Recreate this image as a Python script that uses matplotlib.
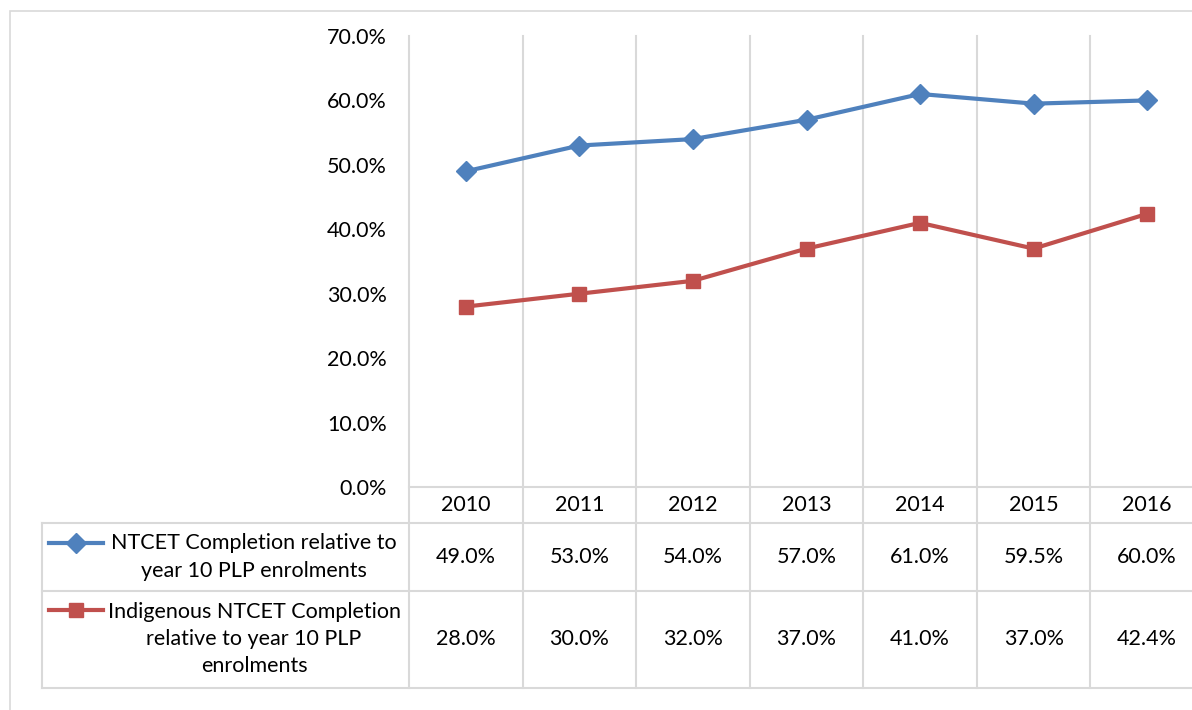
import matplotlib.pyplot as plt
import matplotlib.transforms as mtransforms
from matplotlib.patches import Rectangle
from matplotlib.lines import Line2D

years = ["2010", "2011", "2012", "2013", "2014", "2015", "2016"]
ntcet = [49.0, 53.0, 54.0, 57.0, 61.0, 59.5, 60.0]
indigenous = [28.0, 30.0, 32.0, 37.0, 41.0, 37.0, 42.4]
series_names = [
    "NTCET Completion relative to\nyear 10 PLP enrolments",
    "Indigenous NTCET Completion\nrelative to year 10 PLP\nenrolments",
]
y_ticks = [0, 10, 20, 30, 40, 50, 60, 70]

BLUE = "#4F81BD"
RED = "#C0504D"
GRID = "#D9D9D9"
FONT = "Lato"
FS = 15.5

W, H = 1192, 710
fig = plt.figure(figsize=(W / 100, H / 100), dpi=100)


def fy(py):
    # pixel row (from top) -> figure fraction
    return 1 - py / H


def fx(px):
    return px / W


# chart border
fig.patches.append(Rectangle((fx(10), fy(760)), 2, fy(11) - fy(760),
                             transform=fig.transFigure, fill=False,
                             edgecolor=GRID, lw=1.2))

x0, x1 = 409, 1204
y_top, y_bot = 36, 487
ax = fig.add_axes([fx(x0), fy(y_bot), fx(x1) - fx(x0), fy(y_top) - fy(y_bot)])
ax.set_xlim(-0.5, 6.5)
ax.set_ylim(0, 70)
for s in ax.spines.values():
    s.set_visible(False)
ax.set_xticks([])
ax.set_yticks(y_ticks)
ax.set_yticklabels([f"{v:.1f}%" for v in y_ticks], fontsize=FS, family=FONT)
ax.tick_params(axis="y", length=0, pad=16)

# vertical category gridlines, continued down through the table
trans = mtransforms.blended_transform_factory(ax.transData, fig.transFigure)
for i in range(len(years)):
    ax.add_line(Line2D([i - 0.5, i - 0.5], [fy(y_top), fy(688)], transform=trans,
                       color=GRID, lw=1.5, clip_on=False, zorder=0))

ax.plot(range(len(years)), ntcet, color=BLUE, lw=3, marker="D", ms=10.5, zorder=3)
ax.plot(range(len(years)), indigenous, color=RED, lw=3, marker="s", ms=10, zorder=3)

# data table
left_x = -0.5 - (x0 - 42) / ((x1 - x0) / 7)
ax.add_line(Line2D([-0.5, 7], [fy(487)] * 2, transform=trans, color=GRID, lw=1.5, clip_on=False))
for py in (523, 591, 688):
    ax.add_line(Line2D([left_x, 7], [fy(py)] * 2, transform=trans, color=GRID, lw=1.5, clip_on=False))
ax.add_line(Line2D([left_x, left_x], [fy(523), fy(688)], transform=trans, color=GRID, lw=1.5, clip_on=False))

for i, yr in enumerate(years):
    ax.text(i, fy(505), yr, transform=trans, ha="center", va="center", fontsize=FS, family=FONT)
    ax.text(i, fy(557), f"{ntcet[i]:.1f}%", transform=trans, ha="center", va="center", fontsize=FS, family=FONT)
    ax.text(i, fy(639), f"{indigenous[i]:.1f}%", transform=trans, ha="center", va="center", fontsize=FS, family=FONT)

# row headers with legend keys
rows = [(series_names[0], 557, 543, BLUE, "D", 10), (series_names[1], 639, 610, RED, "s", 10)]
for name, cy, ky, col, mk, ms in rows:
    fig.text(fx(254), fy(cy), name, ha="center", va="center", fontsize=FS,
             family=FONT, linespacing=1.45, multialignment="center")
    fig.add_artist(Line2D([fx(49), fx(103)], [fy(ky)] * 2, color=col, lw=3))
    fig.add_artist(Line2D([fx(76)], [fy(ky)], color=col, marker=mk, ms=ms, lw=0))

fig.savefig("out.png", dpi=100)
